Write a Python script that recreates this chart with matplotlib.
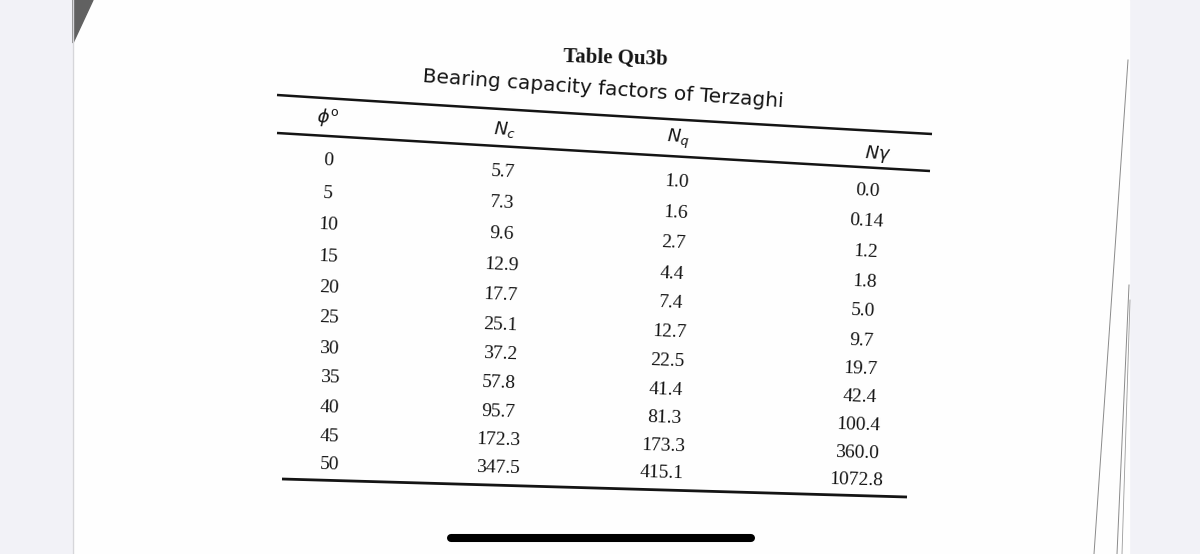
import matplotlib.pyplot as plt
import numpy as np

phi = [0, 5, 10, 15, 20, 25, 30, 35, 40, 45, 50]
Nc = [5.7, 7.3, 9.6, 12.9, 17.7, 25.1, 37.2, 57.8, 95.7, 172.3, 347.5]
Nq = [1.0, 1.6, 2.7, 4.4, 7.4, 12.7, 22.5, 41.4, 81.3, 173.3, 415.1]
Ngamma = [0.0, 0.14, 1.2, 1.8, 5.0, 9.7, 19.7, 42.4, 100.4, 360.0, 1072.8]
headers = [r'$\phi^{\mathrm{o}}$', r'$N_c$', r'$N_q$', r'$N\gamma$']
title = 'Table Qu3b'
subtitle = 'Bearing capacity factors of Terzaghi'

plt.rcParams['mathtext.fontset'] = 'dejavusans'
ink = '#141414'

fig = plt.figure(figsize=(12, 5.54), dpi=100)
fig.patch.set_facecolor('#f2f2f7')
ax = fig.add_axes([0, 0, 1, 1])
ax.set_xlim(0, 1200)
ax.set_ylim(554, 0)
ax.axis('off')

# the photographed page
ax.fill([73, 1129, 1129, 73], [0, 0, 554, 554], color='#fefefe', zorder=0)
ax.plot([72.5, 72.5], [0, 554], color='#d6d6da', lw=1)
ax.fill([73, 93, 73], [0, 0, 43], color='#616161')
ax.plot([1128, 1094], [60, 554], color='#8a8a8a', lw=0.7)   # page edges under it
ax.plot([1129, 1117], [285, 554], color='#8a8a8a', lw=0.7)
ax.plot([1130, 1122], [300, 554], color='#9a9a9a', lw=0.6)

def rule(pts, lw):
    xs, ys = zip(*pts)
    k = np.polyfit(xs, ys, 2)
    xx = np.linspace(xs[0], xs[-1], 100)
    ax.plot(xx, np.polyval(k, xx), color=ink, lw=lw, solid_capstyle='butt')

rule([(277, 95), (600, 115), (932, 134)], 1.8)
rule([(277, 133), (600, 152), (930, 171)], 1.8)
rule([(282, 479), (560, 487), (907, 497)], 2.0)

# headings
ax.text(615, 58, title, family='Liberation Serif', weight='bold', fontsize=15,
        ha='center', va='center', rotation=-1.5, color=ink)
ax.text(603, 89, subtitle, family='DejaVu Sans', fontsize=14.5,
        ha='center', va='center', rotation=-4, rotation_mode='anchor', color=ink)

head_pos = [(328, 118), (505, 130), (678, 139), (878, 154)]
for h, (x, y) in zip(headers, head_pos):
    ax.text(x, y, h, fontsize=13, ha='center', va='center', rotation=-3, color=ink)

# table body, rows follow the tilt of the page
cols = [phi, Nc, Nq, Ngamma]
top = [(328, 161), (503, 172), (677, 182), (868, 191)]
bot = [(330, 465), (498, 468), (662, 473), (856, 480)]
n = len(phi)
for j, col in enumerate(cols):
    for i, v in enumerate(col):
        t = i / (n - 1)
        s = t + 0.07 * t * (1 - t)
        x = top[j][0] + (bot[j][0] - top[j][0]) * s
        y = top[j][1] + (bot[j][1] - top[j][1]) * s
        ax.text(x, y, str(v), family='Liberation Serif', fontsize=14,
                ha='center', va='center', rotation=-(3.0 - 1.4 * t),
                rotation_mode='anchor', color=ink)

# phone home indicator
ax.plot([451, 751], [538, 538], color='black', lw=5.8, solid_capstyle='round')

fig.savefig('out.png', dpi=100, facecolor=fig.get_facecolor())
